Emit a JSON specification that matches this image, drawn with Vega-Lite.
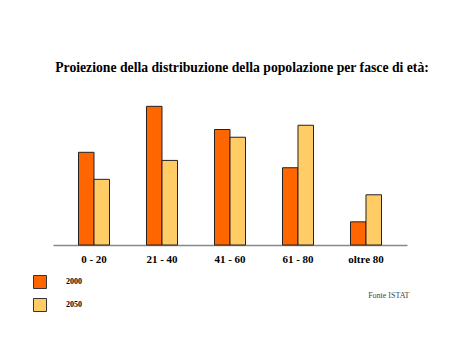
{
  "$schema": "https://vega.github.io/schema/vega-lite/v6.json",
  "autosize": {"type": "none"},
  "width": 354,
  "height": 145,
  "padding": {"left": 53, "top": 100, "right": 53, "bottom": 99},
  "background": "white",
  "title": {
    "text": "Proiezione della distribuzione della popolazione per fasce di età:",
    "font": "Liberation Serif",
    "fontSize": 13.7,
    "fontWeight": "bold",
    "color": "black",
    "anchor": "middle",
    "dx": 12,
    "offset": 25
  },
  "config": {"view": {"stroke": null}},
  "data": {
    "values": [
      {"fascia": "0 - 20", "anno": "2000", "milioni": 12.0},
      {"fascia": "0 - 20", "anno": "2050", "milioni": 8.5},
      {"fascia": "21 - 40", "anno": "2000", "milioni": 17.95},
      {"fascia": "21 - 40", "anno": "2050", "milioni": 10.95},
      {"fascia": "41 - 60", "anno": "2000", "milioni": 14.95},
      {"fascia": "41 - 60", "anno": "2050", "milioni": 13.95},
      {"fascia": "61 - 80", "anno": "2000", "milioni": 10.0},
      {"fascia": "61 - 80", "anno": "2050", "milioni": 15.5},
      {"fascia": "oltre 80", "anno": "2000", "milioni": 3.0},
      {"fascia": "oltre 80", "anno": "2050", "milioni": 6.5}
    ]
  },
  "mark": {"type": "bar", "stroke": "#222", "strokeWidth": 1},
  "encoding": {
    "x": {
      "field": "fascia",
      "type": "nominal",
      "sort": null,
      "scale": {"paddingInner": 0.544, "paddingOuter": 0.375},
      "axis": {
        "title": "Fonte ISTAT",
        "titleFont": "Liberation Serif",
        "titleFontSize": 8,
        "titleFontWeight": "normal",
        "titleColor": "#444",
        "titleAnchor": "end",
        "titleAlign": "right",
        "titleBaseline": "alphabetic",
        "titleX": 356,
        "titleY": 52,
        "labelAngle": 0,
        "labelFont": "Liberation Serif",
        "labelFontSize": 11,
        "labelFontWeight": "bold",
        "labelColor": "black",
        "labelPadding": 8,
        "ticks": false,
        "domainColor": "#888",
        "domainWidth": 1.5,
        "grid": false
      }
    },
    "xOffset": {"field": "anno", "type": "nominal", "scale": {"paddingInner": 0, "paddingOuter": 0}},
    "y": {
      "field": "milioni",
      "type": "quantitative",
      "scale": {"domain": [0, 18.77], "nice": false},
      "axis": null
    },
    "fill": {
      "field": "anno",
      "type": "nominal",
      "scale": {"domain": ["2000", "2050"], "range": ["#FF6600", "#FFCC66"]},
      "legend": {
        "title": null,
        "orient": "none",
        "legendX": -20,
        "legendY": 175,
        "padding": 0,
        "symbolType": "square",
        "symbolSize": 169,
        "symbolStrokeColor": "#333",
        "symbolStrokeWidth": 1,
        "symbolOpacity": 1,
        "labelOffset": 19,
        "rowPadding": 5,
        "labelFont": "Liberation Serif",
        "labelFontSize": 8,
        "labelFontWeight": "bold",
        "labelColor": "black"
      }
    }
  }
}
